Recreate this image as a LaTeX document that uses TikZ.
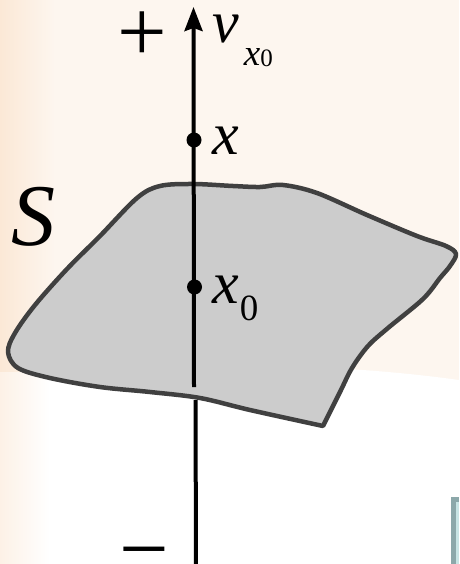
\documentclass[tikz,border=0pt]{standalone}
\usepackage{fontspec}
\setmainfont{Liberation Serif}
\usetikzlibrary{arrows.meta}
\definecolor{peach}{RGB}{253,246,239}
\definecolor{peachdark}{RGB}{251,232,214}
\definecolor{surffill}{RGB}{204,204,204}
\definecolor{surfedge}{RGB}{64,64,64}
\definecolor{boxedge}{RGB}{140,168,170}
\definecolor{boxfill}{RGB}{200,228,228}
\tikzset{
  lbl/.style={inner sep=0pt, anchor=base west, font=\fontsize{60}{60}\selectfont\itshape},
  sign/.style={inner sep=0pt, anchor=base, font=\fontsize{88}{88}\selectfont},
  axis/.style={line width=4pt, black},
  pt/.style={circle, fill=black, inner sep=0pt, minimum size=15pt},
  surf/.style={fill=surffill, draw=surfedge, line width=4.5pt, line join=round}
}
\begin{document}
\begin{tikzpicture}[x=1pt,y=-1pt]
\useasboundingbox (0,0) rectangle (459,564);
% background
\fill[peach] (0,0) rectangle (459,564);
\fill[white] (45,374) .. controls (150,366) and (300,358) .. (459,380) -- (459,564) -- (45,564) -- cycle;
\shade[left color=peachdark, right color=peach] (0,0) rectangle (55,372);
\shade[left color=peachdark!60!white, right color=white] (0,372) rectangle (50,564);
% box at bottom right
\fill[boxedge] (451,497) rectangle (459,564);
\fill[boxfill] (456,502) rectangle (459,564);
% surface
\path[surf] plot[smooth, tension=0.55] coordinates {(323,426) (340,392) (352,368) (368,346) (388,328) (423,299) (440,278) (450,266) (456,254) (446,246) (417,236) (367,215) (317,193) (283,185) (260,187) (233,186) (193,184) (160,186) (137,198) (100,236) (67,269) (35,305) (15,333) (8,352) (18,368) (50,378) (100,387) (150,392) (200,398) (250,410) (323,426)} -- cycle;
% axis
\coordinate (top) at (193.5,7);
\coordinate (in) at (194,387);
\coordinate (out) at (195.5,400);
\coordinate (bot) at (196,566);
\draw[axis, -{Stealth[length=24pt,width=18pt,inset=3pt]}] (in) -- (top);
\draw[axis] (out) -- (bot);
\node[pt] (px) at (194,140) {};
\node[pt] (px0) at (194.5,287) {};
% labels
\node[lbl] (lx) at (212,155) {x};
\node[lbl] (lx0) at (212,303) {x\hspace{1pt}\raisebox{-17pt}{\fontsize{37}{37}\selectfont\upshape 0}};
\node[lbl] (lnu) at (212,43) {ν\hspace{5pt}\raisebox{-23pt}{\fontsize{37}{37}\selectfont x\raisebox{-1pt}{\fontsize{25}{25}\selectfont\upshape 0}}};
\node[lbl, font=\fontsize{88}{88}\selectfont\itshape] (lS) at (11,245) {S};
\node[sign] (plus) at (142,35) {\smash{\raisebox{-27pt}{+}}};
\node[sign] (minus) at (144,548) {\smash{\raisebox{-30pt}{−}}};
\end{tikzpicture}
\end{document}
